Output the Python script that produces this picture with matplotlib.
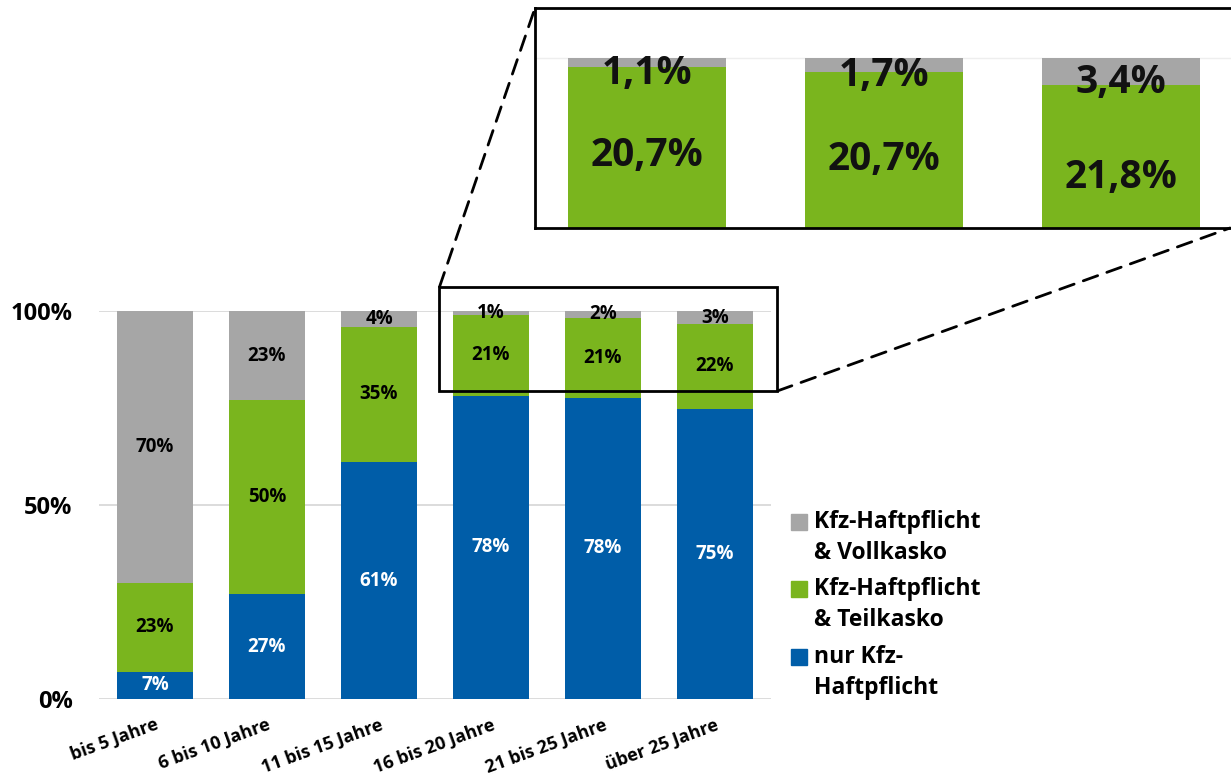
import matplotlib
matplotlib.use("Agg")
import matplotlib.pyplot as plt
from matplotlib.patches import Rectangle, ConnectionPatch
import numpy as np

# ---------------- data ----------------
categories = ["bis 5 Jahre", "6 bis 10 Jahre", "11 bis 15 Jahre",
              "16 bis 20 Jahre", "21 bis 25 Jahre", "über 25 Jahre"]
nur_haftpflicht = [7, 27, 61, 78.2, 77.6, 74.8]
teilkasko = [23, 50, 35, 20.7, 20.7, 21.8]
vollkasko = [70, 23, 4, 1.1, 1.7, 3.4]
series = [nur_haftpflicht, teilkasko, vollkasko]
series_labels = ["nur Kfz-\nHaftpflicht", "Kfz-Haftpflicht\n& Teilkasko",
                 "Kfz-Haftpflicht\n& Vollkasko"]
colors = ["#005DA8", "#7AB51E", "#A6A6A6"]
label_colors = ["white", "black", "black"]
yticks = [0, 50, 100]
ytick_labels = ["0%", "50%", "100%"]
inset_idx = [3, 4, 5]

plt.rcParams["font.family"] = ["Open Sans", "DejaVu Sans"]
plt.rcParams["font.weight"] = "bold"

W, H = 1231, 778
fig = plt.figure(figsize=(W / 100, H / 100), dpi=100)


def px_rect(l, t, r, b):
    return [l / W, 1 - b / H, (r - l) / W, (b - t) / H]


def fx(x):
    return x / W


def fy(y):
    return 1 - y / H


# ---------------- main chart ----------------
ax = fig.add_axes(px_rect(99, 311, 771, 699))
x = np.arange(len(categories))
bw = 0.67
bottom = np.zeros(len(categories))
for vals, c, lc in zip(series, colors, label_colors):
    vals = np.array(vals, dtype=float)
    ax.bar(x, vals, bw, bottom=bottom, color=c, edgecolor="none", zorder=2)
    for xi, b, v in zip(x, bottom, vals):
        ax.text(xi, b + v / 2, f"{round(v)}%", ha="center", va="center",
                fontsize=13.5, fontweight="bold", color=lc, zorder=3)
    bottom += vals

ax.set_xlim(-0.5, 5.5)
ax.set_ylim(0, 100)
ax.set_yticks(yticks, ytick_labels, fontsize=17, fontweight="bold")
ax.set_xticks(x, categories, rotation=20, ha="right", rotation_mode="anchor",
              fontsize=13, fontweight="bold")
ax.tick_params(axis="y", length=0, pad=19)
ax.tick_params(axis="x", length=0, pad=12)
ax.yaxis.grid(True, color="#D9D9D9", lw=1.3, zorder=0)
ax.set_axisbelow(True)
for s in ax.spines.values():
    s.set_visible(False)

# zoom frame on main chart
zx0, zx1 = 2.54, 5.558
zy0, zy1 = 79.4, 106.2
ax.add_patch(Rectangle((zx0, zy0), zx1 - zx0, zy1 - zy0, fill=False,
                       edgecolor="black", lw=2, clip_on=False, zorder=5))

# ---------------- inset ----------------
axi = fig.add_axes(px_rect(535, 8, 1233, 228))
bottom = np.zeros(len(categories))
for k, (vals, c) in enumerate(zip(series, colors)):
    vals = np.array(vals, dtype=float)
    idx = np.array(inset_idx)
    axi.bar(idx, vals[idx], bw, bottom=bottom[idx], color=c,
            edgecolor="none", zorder=2)
    if k > 0:
        off = -8 if k == 2 else -4
        for xi in idx:
            axi.annotate(f"{vals[xi]:.1f}".replace(".", ",") + "%",
                         (xi, bottom[xi] + vals[xi] / 2),
                         xytext=(0, off), textcoords="offset points",
                         ha="center", va="center", fontsize=28,
                         fontweight="bold", color="#111111", zorder=3)
    bottom += vals
axi.axhline(100, color="#EEEEEE", lw=1, zorder=1)
axi.set_xlim(2.527, 5.4726)
axi.set_ylim(78.75, 106.25)
axi.set_xticks([])
axi.set_yticks([])
for s in axi.spines.values():
    s.set_linewidth(2)
    s.set_color("black")

# dashed connectors
dash = (0, (5.5, 3.5))
con1 = ConnectionPatch(xyA=(zx0, zy1), coordsA=ax.transData,
                       xyB=(0, 1), coordsB=axi.transAxes,
                       color="black", lw=2, linestyle=dash)
con2 = ConnectionPatch(xyA=(zx1, zy0), coordsA=ax.transData,
                       xyB=(5.46, 78.75), coordsB=axi.transData,
                       color="black", lw=2, linestyle=dash)
fig.add_artist(con1)
fig.add_artist(con2)

# ---------------- legend ----------------
leg_y = [522, 589, 657]
for yc, lab, c in zip(leg_y, series_labels[::-1], colors[::-1]):
    fig.add_artist(Rectangle((fx(791), fy(yc + 8)), 16 / W, 16 / H,
                             transform=fig.transFigure, color=c))
    for j, line in enumerate(lab.split("\n")):
        fig.text(fx(814), fy(yc + 31 * j), line, ha="left", va="center",
                 fontsize=16.5, fontweight="bold", color="black")

fig.savefig("out.png", dpi=100)
